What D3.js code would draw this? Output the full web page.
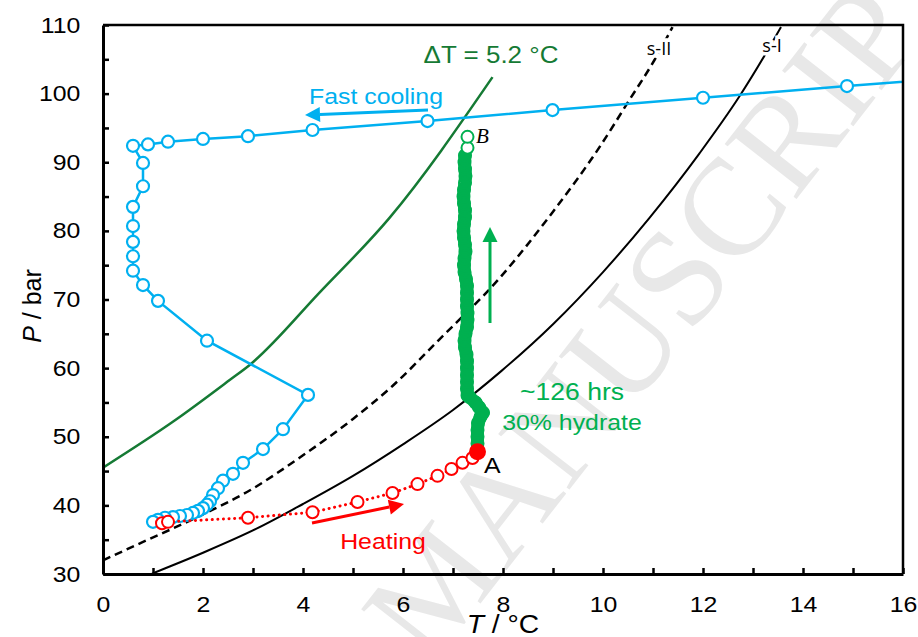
<!DOCTYPE html>
<html><head><meta charset="utf-8">
<script src="https://cdn.jsdelivr.net/npm/d3@7/dist/d3.min.js"></script>
<style>body{margin:0;background:#fff}svg{display:block}</style>
</head><body><svg id="c" width="918" height="637"></svg>
<script>
// ---- data ----
const xTicks = [0,1,2,3,4,5,6,7,8,9,10,11,12,13,14,15,16];
const yTicks = [30,35,40,45,50,55,60,65,70,75,80,85,90,95,100,105,110];

// fast cooling series (blue)
const coolT = [18.0,14.88,12.0,8.99,6.49,4.19,2.9,2.0,1.3,0.9,0.6,0.8,0.8,0.6,0.6,0.6,0.6,0.6,0.8,1.1,2.08,4.1,3.6,3.2,2.8,2.6,2.4,2.3,2.2,2.14,2.08,2.0,1.9,1.8,1.68,1.54,1.4,1.24,1.1,1.0];
const coolP = [102.9,101.1,99.4,97.6,96.0,94.7,93.8,93.4,93.0,92.6,92.4,89.9,86.5,83.5,80.7,78.4,76.3,74.2,72.1,69.8,64.0,56.1,51.1,48.2,46.2,44.6,43.6,42.5,41.5,40.6,40.1,39.6,39.2,38.9,38.6,38.45,38.3,38.2,37.9,37.6];

// heating series (red)
const heatT = [1.18,1.3,2.9,4.19,5.09,5.79,6.29,6.69,6.97,7.19,7.39,7.49];
const heatP = [37.4,37.6,38.2,39.0,40.5,41.8,43.1,44.3,45.3,46.2,46.9,47.8];

// hydrate formation series (green), A -> B
const holdT = [7.49,7.49,7.49,7.49,7.5,7.55,7.6,7.52,7.45,7.33,7.29,7.28,7.28,7.28,7.28,7.28,7.27,7.24,7.23,7.25,7.28,7.29,7.29,7.28,7.28,7.28,7.28,7.26,7.23,7.22,7.23,7.25,7.24,7.22,7.21,7.22,7.24,7.24,7.22,7.21,7.22,7.24,7.25,7.24,7.23,7.24,7.29,7.29];
const holdP = [47.8,49,50,51,52,52.9,53.5,54.3,55.0,55.8,56,57,58,59,60,61,62,63,64,65,66,67,68,69,70,71,72,73,74,75,76,77,78,79,80,81,82,83,84,85,86,87,88,89,90,91,92.1,93.7];

// equilibrium curves
const sIT = [0.7,1.0,2.0,3.07,4.0,5.0,6.0,7.0,7.97,9.0,10.0,10.93,11.93,12.72,13.26,13.56];
const sIP = [29.2,30.1,33.1,36.6,40.2,44.3,48.9,53.9,59.6,66.4,74.0,81.9,91.3,99.5,105.9,109.7];
const sIIT = [0,0.78,2.0,2.94,4.0,5.0,5.79,6.73,7.93,9.0,9.93,10.53,11.03,11.39];
const sIIP = [32.0,34.6,38.7,42.2,47.3,52.6,57.4,64.2,73.1,82.8,92.2,99.1,104.9,109.7];
const dT = [0,1.44,2.54,2.94,4.33,5.73,7.79];
const dP = [45.5,52.4,58.3,60.5,71.0,81.9,102.4];

// ---- drawing ----
const svg = d3.select("#c");
const x = d3.scaleLinear().domain([0,16]).range([103,903]);
const y = d3.scaleLinear().domain([30,110]).range([574,25]);
const BLUE="#00b0f0", RED="#ff0000", GREEN="#00b050", DGREEN="#157a34";
const SANS="Liberation Sans, Arial, sans-serif", SX=1.13;

// watermark
svg.append("text").attr("transform","translate(430,668) rotate(-52)")
  .style("font-family","Liberation Serif, serif").attr("font-size",138)
  .attr("fill","#e8e8e8").text("MANUSCRIPT");

svg.append("defs").append("clipPath").attr("id","pc").append("rect")
  .attr("x",103).attr("y",25).attr("width",800).attr("height",549);
const g = svg.append("g").attr("clip-path","url(#pc)");

const line = (T,P,curve) => d3.line().x((d,i)=>x(T[i])).y((d,i)=>y(P[i])).curve(curve||d3.curveLinear)(T);

g.append("path").attr("d",line(sIT,sIP,d3.curveMonotoneX)).attr("fill","none").attr("stroke","#000").attr("stroke-width",2);
g.append("path").attr("d",line(sIIT,sIIP,d3.curveMonotoneX)).attr("fill","none").attr("stroke","#000").attr("stroke-width",2.5).attr("stroke-dasharray","8,5");
g.append("path").attr("d",line(dT,dP,d3.curveMonotoneX)).attr("fill","none").attr("stroke",DGREEN).attr("stroke-width",2.5);

function txt(px,py,str,size,col,anchor){
  return svg.append("text").attr("transform",`translate(${px},${py}) scale(${SX},1)`)
    .attr("text-anchor",anchor||"middle").attr("font-size",size).attr("fill",col||"#000")
    .style("font-family",SANS).text(str);
}
txt(659,55,"s-II",19).attr("stroke","#fff").attr("stroke-width",7).attr("paint-order","stroke").style("font-family","Open Sans, sans-serif").attr("transform","translate(659,55) scale(0.95,1)");
txt(772,52,"s-I",19).attr("stroke","#fff").attr("stroke-width",7).attr("paint-order","stroke").style("font-family","Open Sans, sans-serif").attr("transform","translate(772,52) scale(0.95,1)");

// blue cooling
g.append("path").attr("d",line(coolT,coolP)).attr("fill","none").attr("stroke",BLUE).attr("stroke-width",2.5);
g.selectAll(".cb").data(coolT).join("circle").attr("cx",(d,i)=>x(coolT[i])).attr("cy",(d,i)=>y(coolP[i]))
  .attr("r",6).attr("fill","#fff").attr("stroke",BLUE).attr("stroke-width",2.2);

// green hold
const nH = holdT.length;
g.append("path").attr("d",line(holdT.slice(0,nH-2),holdP.slice(0,nH-2))).attr("fill","none").attr("stroke",GREEN)
  .attr("stroke-width",13).attr("stroke-linejoin","round").attr("stroke-linecap","round");
g.selectAll(".cg").data(holdT).join("circle").attr("cx",(d,i)=>x(holdT[i])).attr("cy",(d,i)=>y(holdP[i]))
  .attr("r",6).attr("fill",(d,i)=>i>=nH-2?"#fff":"none").attr("stroke",GREEN).attr("stroke-width",2);

// red heating
g.append("path").attr("d",line(heatT,heatP)).attr("fill","none").attr("stroke",RED).attr("stroke-width",3)
  .attr("stroke-dasharray","0.1,5.5").attr("stroke-linecap","round");
g.selectAll(".cr").data(heatT.slice(0,-1)).join("circle").attr("cx",(d,i)=>x(heatT[i])).attr("cy",(d,i)=>y(heatP[i]))
  .attr("r",6).attr("fill","#fff").attr("stroke",RED).attr("stroke-width",2);
g.append("circle").attr("cx",x(heatT[heatT.length-1])).attr("cy",y(heatP[heatP.length-1])).attr("r",8.5).attr("fill",RED);

// axes
const xa = svg.append("g").attr("transform","translate(0,574)")
  .call(d3.axisBottom(x).tickValues(xTicks).tickSizeInner(-6).tickSizeOuter(0).tickPadding(22).tickFormat(d=>d%2===0?d:""));
const ya = svg.append("g").attr("transform","translate(103,0)")
  .call(d3.axisLeft(y).tickValues(yTicks).tickSizeInner(-6).tickSizeOuter(0).tickPadding(20).tickFormat(d=>d%10===0?d:""));
[xa,ya].forEach(a=>{
  a.select(".domain").attr("stroke","#000").attr("stroke-width",3);
  a.selectAll(".tick line").attr("stroke","#000").attr("stroke-width",2.5);
  a.selectAll(".tick text").attr("font-size",22).attr("fill","#000").style("font-family",SANS)
    .attr("transform",`scale(${SX},1)`);
});
ya.selectAll(".tick text").attr("x",-20);
svg.append("path").attr("d",`M103,25H903V574`).attr("fill","none").attr("stroke","#000").attr("stroke-width",2.5);

// axis titles
const yt = svg.append("text").attr("transform","translate(41,306) rotate(-90)").attr("text-anchor","middle").attr("font-size",25).style("font-family",SANS);
yt.append("tspan").attr("font-style","italic").text("P");
yt.append("tspan").text(" / bar");
const xt = svg.append("text").attr("transform",`translate(503,633) scale(${SX},1)`).attr("text-anchor","middle").attr("font-size",25).style("font-family",SANS);
xt.append("tspan").attr("font-style","italic").text("T");
xt.append("tspan").text(" / °C");

// annotations
txt(491,63,"ΔT = 5.2 °C",23,DGREEN);
txt(376,104,"Fast cooling",22,BLUE);
svg.append("text").attr("x",476).attr("y",143).attr("font-size",21).attr("font-style","italic").style("font-family","Liberation Serif, serif").text("B");
txt(484,473,"A",22,"#000","start");
txt(520,400,"~126 hrs",23.5,GREEN,"start");
txt(572,430,"30% hydrate",22,GREEN);
txt(383,549,"Heating",22,RED);

// arrows
function arrow(x1,y1,x2,y2,col){
  const a=Math.atan2(y2-y1,x2-x1), L=15, W=7.5;
  const bx=x2-L*Math.cos(a), by=y2-L*Math.sin(a);
  svg.append("line").attr("x1",x1).attr("y1",y1).attr("x2",bx).attr("y2",by).attr("stroke",col).attr("stroke-width",3);
  svg.append("path").attr("d",`M${x2},${y2}L${bx+W*Math.sin(a)},${by-W*Math.cos(a)}L${bx-W*Math.sin(a)},${by+W*Math.cos(a)}Z`).attr("fill",col);
}
arrow(428,110,305,115,BLUE);
arrow(490,323,490,227,GREEN);
arrow(312,523,404,504,RED);
</script></body></html>
